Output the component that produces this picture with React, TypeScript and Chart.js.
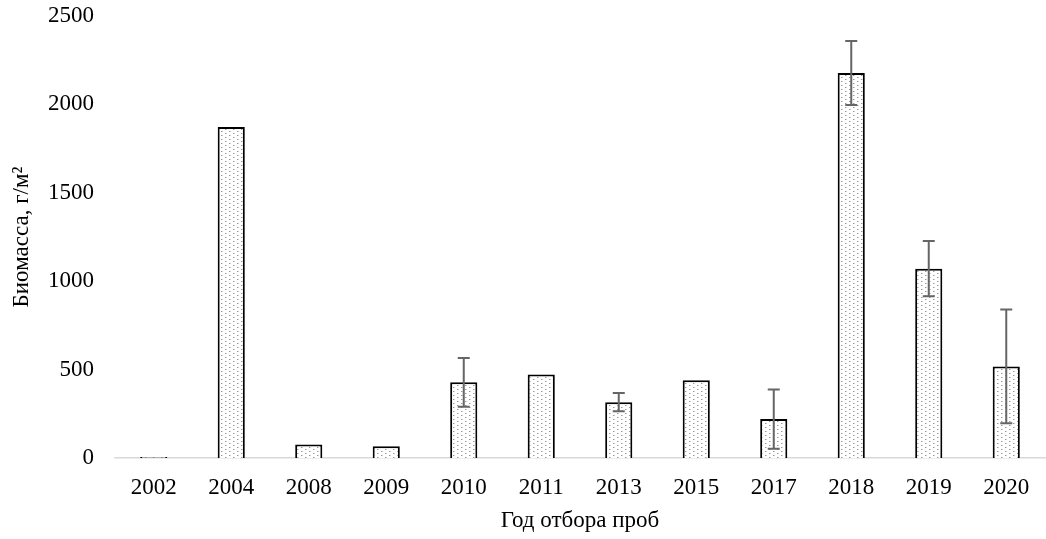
import React, { useEffect, useRef } from "react";
import { Chart, registerables } from "chart.js";

Chart.register(...registerables);

const years = ["2002", "2004", "2008", "2009", "2010", "2011", "2013", "2015", "2017", "2018", "2019", "2020"];
const biomass = [6, 1872, 77, 66, 428, 472, 316, 440, 220, 2178, 1071, 518];
const errors = [0, 0, 0, 0, 138, 0, 52, 0, 167, 181, 156, 322];
const yTicks = [0, 500, 1000, 1500, 2000, 2500];

const FONT = "'Liberation Serif', 'Times New Roman', serif";

function makePattern(): CanvasPattern | string {
  const c = document.createElement("canvas");
  c.width = 8;
  c.height = 8;
  const g = c.getContext("2d");
  if (!g) return "#fff";
  g.fillStyle = "#ffffff";
  g.fillRect(0, 0, 8, 8);
  g.fillStyle = "#9a9a9a";
  g.fillRect(1, 1, 1, 1);
  g.fillRect(5, 3, 1, 1);
  g.fillRect(1, 5, 1, 1);
  g.fillRect(5, 7, 1, 1);
  g.fillStyle = "#cfcfcf";
  g.fillRect(2, 1, 1, 1);
  g.fillRect(6, 3, 1, 1);
  g.fillRect(2, 5, 1, 1);
  g.fillRect(6, 7, 1, 1);
  const p = g.createPattern(c, "repeat");
  return p || "#fff";
}

const errorBarPlugin = {
  id: "errorBars",
  afterDatasetsDraw(chart: any) {
    const meta = chart.getDatasetMeta(0);
    const y = chart.scales.y;
    const ctx = chart.ctx;
    ctx.save();
    ctx.strokeStyle = "#666666";
    ctx.lineWidth = 2;
    meta.data.forEach((bar: any, i: number) => {
      const e = errors[i];
      if (!e) return;
      const v = biomass[i];
      const yt = y.getPixelForValue(v + e);
      const yb = y.getPixelForValue(v - e);
      const x = bar.x;
      ctx.beginPath();
      ctx.moveTo(x, yt);
      ctx.lineTo(x, yb);
      ctx.moveTo(x - 6, yt);
      ctx.lineTo(x + 6, yt);
      ctx.moveTo(x - 6, yb);
      ctx.lineTo(x + 6, yb);
      ctx.stroke();
    });
    ctx.restore();
  },
};

const titlesPlugin = {
  id: "axisTitles",
  afterDraw(chart: any) {
    const ctx = chart.ctx;
    const area = chart.chartArea;
    ctx.save();
    ctx.fillStyle = "#000";
    ctx.font = `23px ${FONT}`;
    ctx.textAlign = "center";
    ctx.textBaseline = "middle";
    ctx.fillText("Год отбора проб", (area.left + area.right) / 2, 521);
    ctx.translate(22, (area.top + area.bottom) / 2);
    ctx.rotate(-Math.PI / 2);
    ctx.fillText("Биомасса, г/м²", 0, 0);
    ctx.restore();
  },
};

export default function App() {
  const ref = useRef<HTMLCanvasElement | null>(null);

  useEffect(() => {
    if (!ref.current) return;
    const pattern = makePattern();
    const chart = new Chart(ref.current, {
      type: "bar",
      data: {
        labels: years,
        datasets: [
          {
            data: biomass,
            backgroundColor: pattern as any,
            borderColor: "#000000",
            borderWidth: 2,
            barPercentage: 0.35,
            categoryPercentage: 1,
          },
        ],
      },
      options: {
        responsive: false,
        animation: false,
        layout: { padding: { top: 16, right: 1, left: 0, bottom: 0 } },
        plugins: {
          legend: { display: false },
          tooltip: { enabled: false },
        },
        scales: {
          x: {
            grid: { display: false, drawTicks: false },
            border: { display: true, color: "#d9d9d9", width: 1.5 },
            ticks: {
              color: "#000",
              font: { family: FONT, size: 23 },
              padding: 16,
              maxRotation: 0,
            },
            afterFit: (s: any) => {
              s.height = 81;
              s.paddingLeft = 0;
              s.paddingRight = 0;
            },
          },
          y: {
            min: 0,
            max: 2500,
            afterBuildTicks: (s: any) => {
              s.ticks = yTicks.map((v) => ({ value: v }));
            },
            grid: { display: false, drawTicks: false },
            border: { display: false },
            ticks: {
              color: "#000",
              font: { family: FONT, size: 23 },
              padding: 21,
              callback: (v: any) => String(v),
            },
            afterFit: (s: any) => {
              s.width = 115;
              s.paddingTop = 0;
              s.paddingBottom = 0;
            },
          },
        },
      },
      plugins: [errorBarPlugin, titlesPlugin],
    });
    return () => chart.destroy();
  }, []);

  return (
    <canvas
      ref={ref}
      width={1046}
      height={539}
      style={{ position: "absolute", left: 0, top: 0, width: 1046, height: 539, background: "#fff" }}
    />
  );
}
